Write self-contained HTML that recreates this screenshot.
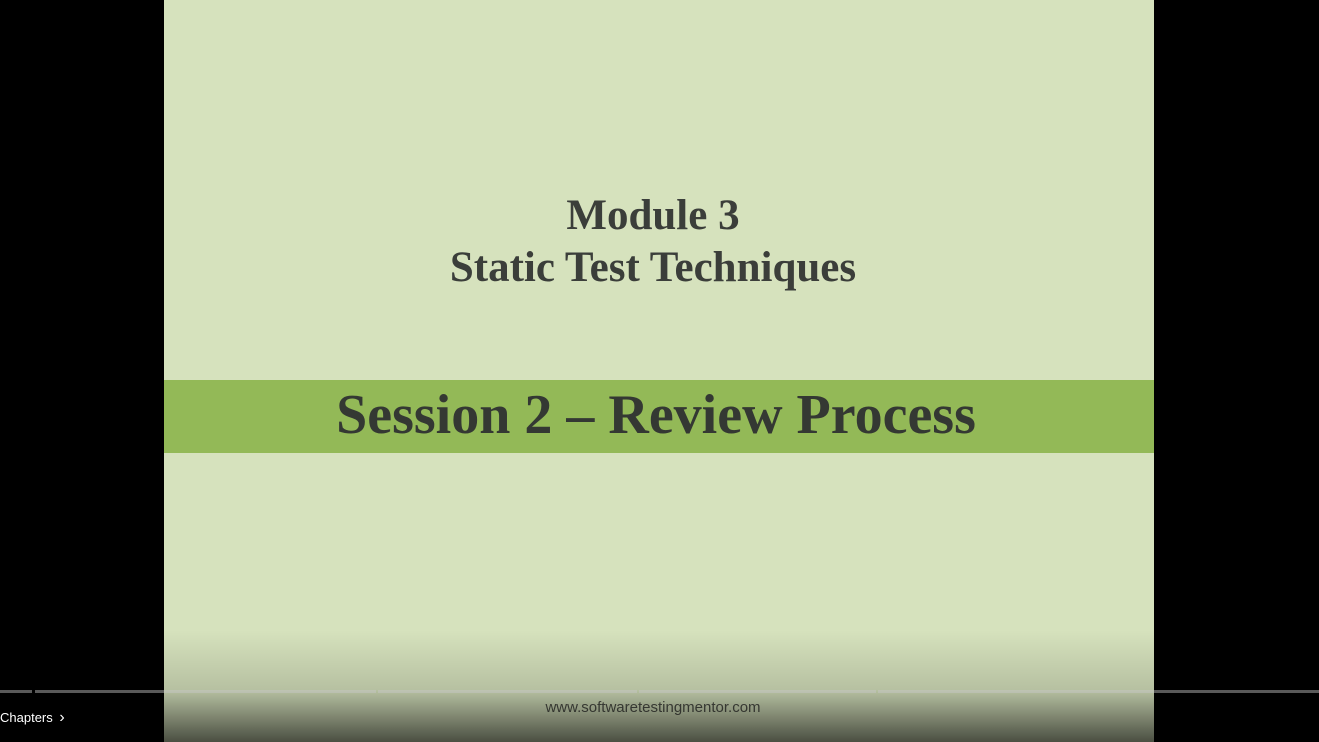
<!DOCTYPE html>
<html><head><meta charset="utf-8"><style>
html,body{margin:0;padding:0;width:1319px;height:742px;background:#000;overflow:hidden;font-family:"Liberation Serif",serif}
#slide{position:absolute;left:164px;top:0;width:990px;height:742px;background:#d6e2bd}
.t{position:absolute;left:-6px;width:990px;text-align:center;color:#3b3e3a;font-weight:bold}
#band{position:absolute;left:0;top:380px;width:990px;height:73px;background:#93b957}
#shade{position:absolute;left:0;top:0;width:1319px;height:742px;background:linear-gradient(to bottom,rgba(0,0,0,0) 630px,rgba(0,0,0,0.15) 690px,rgba(0,0,0,0.65) 742px);pointer-events:none}
.seg{position:absolute;top:690px;height:3px;background:rgba(200,200,200,0.45)}
</style></head><body>
<div id="slide">
<div class="t" style="top:191px;font-size:43px;line-height:50px">Module 3</div>
<div class="t" style="top:243px;font-size:43px;line-height:50px">Static Test Techniques</div>
<div id="band"></div>
<div class="t" style="top:383px;font-size:56px;line-height:64px;color:#343833;left:-3px">Session 2 – Review Process</div>
<div class="t" style="top:699px;font-family:'Liberation Sans',sans-serif;font-weight:normal;font-size:15px;color:#4e5148">www.softwaretestingmentor.com</div>
</div>
<div id="shade"></div>
<div class="seg" style="left:0;width:32px"></div>
<div class="seg" style="left:35px;width:341px"></div>
<div class="seg" style="left:378px;width:259px"></div>
<div class="seg" style="left:639px;width:237px"></div>
<div class="seg" style="left:878px;width:441px"></div>
<div style="position:absolute;left:0;top:709px;font-family:'Liberation Sans',sans-serif;font-size:13px;color:#fff">Chapters <span style="font-size:16px;margin-left:3px">&#x203A;</span></div>
</body></html>
